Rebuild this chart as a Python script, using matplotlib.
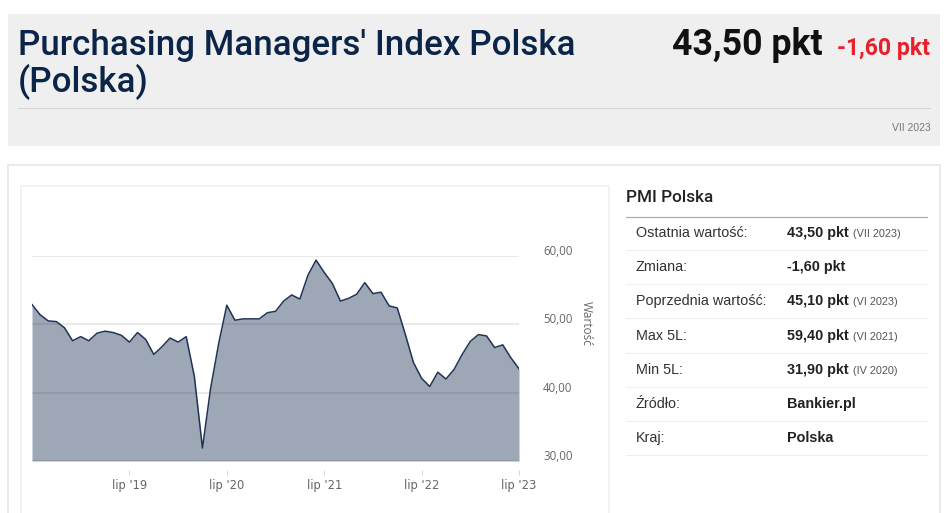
import matplotlib
matplotlib.use("Agg")
import matplotlib.pyplot as plt
import matplotlib.patches as mpatches
import matplotlib.transforms as mtransforms
import numpy as np
import pandas as pd

# ---------------- data ----------------
months = [p.strftime("%Y-%m") for p in pd.period_range("2018-07", "2023-07", freq="M")]
pmi = [52.9, 51.4, 50.5, 50.4, 49.5, 47.6,
       48.2, 47.6, 48.7, 49.0, 48.8, 48.4, 47.4, 48.8, 47.8, 45.6, 46.7, 48.0,
       47.4, 48.2, 42.4, 31.9, 40.6, 47.2, 52.8, 50.6, 50.8, 50.8, 50.8, 51.7,
       51.9, 53.4, 54.3, 53.7, 57.2, 59.4, 57.6, 56.0, 53.4, 53.8, 54.4, 56.1,
       54.5, 54.7, 52.7, 52.4, 48.5, 44.4, 42.1, 40.9, 43.0, 42.0, 43.4, 45.6,
       47.5, 48.5, 48.3, 46.6, 47.0, 45.1, 43.5]
xtick_months = ["2019-07", "2020-07", "2021-07", "2022-07", "2023-07"]
xtick_labels = ["lip '19", "lip '20", "lip '21", "lip '22", "lip '23"]
ytick_values = [30, 40, 50, 60]
ytick_labels = ["30,00", "40,00", "50,00", "60,00"]

title_line1 = "Purchasing Managers' Index Polska"
title_line2 = "(Polska)"
head_value = "43,50 pkt"
head_change = "-1,60 pkt"
head_period = "VII 2023"

table_title = "PMI Polska"
row_labels = ["Ostatnia wartość:", "Zmiana:", "Poprzednia wartość:", "Max 5L:",
              "Min 5L:", "Źródło:", "Kraj:"]
row_values = ["43,50 pkt", "-1,60 pkt", "45,10 pkt", "59,40 pkt", "31,90 pkt",
              "Bankier.pl", "Polska"]
row_notes = ["(VII 2023)", "", "(VI 2023)", "(VI 2021)", "(IV 2020)", "", ""]

# ---------------- figure ----------------
W, H, DPI = 948, 513, 100
fig = plt.figure(figsize=(W / DPI, H / DPI), dpi=DPI)
fig.patch.set_facecolor("white")
bg = fig.add_axes([0, 0, 1, 1], zorder=0)
bg.set_xlim(0, W)
bg.set_ylim(H, 0)
bg.axis("off")
renderer = fig.canvas.get_renderer()


def pt(px):
    return px * 72.0 / DPI


def fit_text(x, y, s, width, size0=20, **kw):
    t = bg.text(x, y, s, fontsize=size0, **kw)
    w = t.get_window_extent(renderer).width
    t.set_fontsize(size0 * width / w)
    return t


# header box
bg.add_patch(mpatches.Rectangle((8, 14), 932, 132, fc="#efefef", ec="none"))
t1 = fit_text(18, 55, title_line1, 558, color="#0b2548", family="Roboto",
              weight="medium", va="baseline", ha="left")
bg.text(18, 92, title_line2, fontsize=t1.get_fontsize(), color="#0b2548",
        family="Roboto", weight="medium", va="baseline", ha="left")
fit_text(672, 55, head_value, 150, color="#111111", family="Roboto",
         weight="bold", va="baseline", ha="left")
fit_text(837, 55, head_change, 93, color="#e8202a", family="Roboto",
         weight="bold", va="baseline", ha="left")
bg.plot([18, 930], [107.5, 107.5], color="#d6d6d6", lw=pt(1))
bg.text(931, 128, head_period, fontsize=7.5, color="#777777",
        family="Liberation Sans", ha="right", va="center")

# panels
bg.add_patch(mpatches.Rectangle((8, 165), 932, 420, fc="white", ec="#ebebeb", lw=pt(2)))
bg.add_patch(mpatches.Rectangle((21, 186), 588, 400, fc="white", ec="#f2f2f2", lw=pt(2)))

# table
fit_text(626, 198, table_title, 87, color="#222222", family="Roboto",
         weight="medium", va="center", ha="left")
bg.plot([626, 927], [216.5, 216.5], color="#aaaaaa", lw=pt(1.2))
row0, rstep = 233.0, 34.2
ref = bg.text(0, 0, "Poprzednia wartość:", fontsize=10, family="Liberation Sans")
lab_size = 10 * 130 / ref.get_window_extent(renderer).width
ref.remove()
for i, (lab, val, note) in enumerate(zip(row_labels, row_values, row_notes)):
    yc = row0 + i * rstep
    bg.text(636, yc, lab, fontsize=lab_size, color="#333333",
            family="Liberation Sans", va="center", ha="left")
    tv = bg.text(787, yc, val, fontsize=lab_size, color="#222222",
                 family="Liberation Sans", weight="bold", va="center", ha="left")
    if note:
        bb = tv.get_window_extent(renderer)
        bg.text(bb.x1 + 4, yc + 1, note, fontsize=lab_size * 0.76, color="#555555",
                family="Liberation Sans", va="center", ha="left")
    bg.plot([626, 927], [yc + 17, yc + 17], color="#eeeeee", lw=pt(1))

# axis title
bg.text(586, 323, "Wartość", rotation=270, fontsize=8.5, color="#666666",
        family="Open Sans", ha="center", va="center")

# ---------------- chart ----------------
ax = fig.add_axes([32 / W, (H - 461) / H, (519 - 32) / W, (461 - 256) / H], zorder=2)
ax.patch.set_alpha(0)
x = np.arange(len(pmi))
ax.fill_between(x, pmi, 30, color="#1b2f52", alpha=0.425, lw=0, zorder=2)
ax.plot(x, pmi, color="#1f3354", lw=1.1, zorder=3, solid_joinstyle="round")
ax.set_xlim(0, len(pmi) - 1)
ax.set_ylim(30, 60)

ax.set_yticks(ytick_values)
ax.set_yticklabels(ytick_labels)
ax.yaxis.tick_right()
ax.grid(axis="y", color="#e6e6e6", lw=pt(1.6), zorder=1)
ax.set_axisbelow(True)
ax.tick_params(axis="y", length=0, pad=pt(24), labelsize=8.3, labelcolor="#666666")
off = mtransforms.ScaledTranslation(0, 6 / DPI, fig.dpi_scale_trans)
for lab in ax.get_yticklabels():
    lab.set_transform(lab.get_transform() + off)
    lab.set_family("Open Sans")

tick_idx = [months.index(m) for m in xtick_months]
ax.set_xticks(tick_idx)
ax.set_xticklabels(xtick_labels, family="Open Sans")
for s in ["top", "left", "right"]:
    ax.spines[s].set_visible(False)
ax.spines["bottom"].set_position(("outward", pt(9)))
ax.spines["bottom"].set_visible(False)
ax.tick_params(axis="x", length=pt(5), width=pt(1), color="#ccd6eb",
               direction="out", pad=pt(4), labelsize=8.3, labelcolor="#666666")
ax.axhline(30, color="#ccd6eb", lw=pt(1), zorder=4)

fig.savefig("out.png", dpi=DPI, facecolor="white")
